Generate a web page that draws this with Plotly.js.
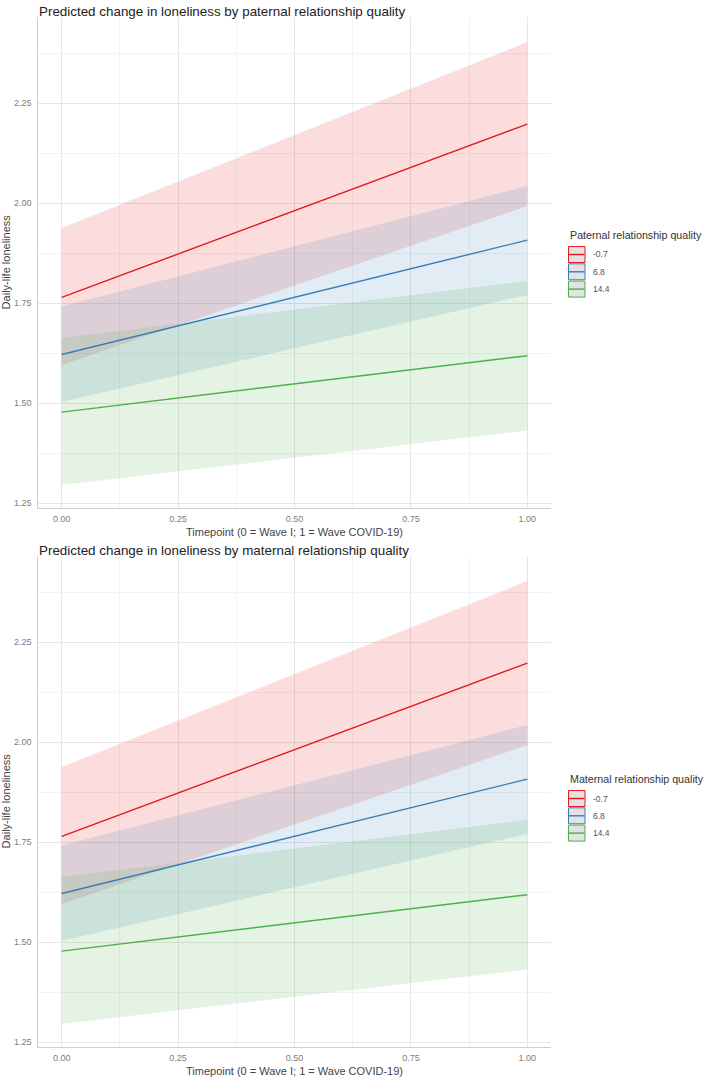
<!DOCTYPE html>
<html>
<head>
<meta charset="utf-8">
<script src="https://cdn.plot.ly/plotly-3.0.1.min.js"></script>
<style>
html,body{margin:0;padding:0;background:#fff;}
#chart{width:709px;height:1081px;}
</style>
</head>
<body>
<div id="chart"></div>
<script>
// ---- data ----
const timepoint = [0, 1];
const groupLabels = ["-0.7", "6.8", "14.4"];
const groupColors = ["#E41A1C", "#377EB8", "#4DAF4A"];
const groupFills = ["rgba(228,26,28,0.15)", "rgba(55,126,184,0.15)", "rgba(77,175,74,0.15)"];

// Paternal relationship quality panel
const patPred  = [[1.765, 2.198], [1.622, 1.908], [1.478, 1.619]];
const patLow   = [[1.596, 1.993], [1.504, 1.771], [1.296, 1.432]];
const patHigh  = [[1.938, 2.403], [1.742, 2.043], [1.663, 1.806]];

// Maternal relationship quality panel
const matPred  = [[1.765, 2.198], [1.622, 1.908], [1.478, 1.619]];
const matLow   = [[1.596, 1.993], [1.504, 1.771], [1.296, 1.432]];
const matHigh  = [[1.938, 2.403], [1.742, 2.043], [1.663, 1.806]];

const panelTitles = ["Predicted change in loneliness by paternal relationship quality",
                     "Predicted change in loneliness by maternal relationship quality"];
const legendTitles = ["Paternal relationship quality", "Maternal relationship quality"];
const xTitle = "Timepoint (0 = Wave I; 1 = Wave COVID-19)";
const yTitle = "Daily-life loneliness";
const xTicks = [0, 0.25, 0.5, 0.75, 1];
const yTicks = [1.25, 1.5, 1.75, 2.0, 2.25];

// ---- build ----
const W = 709, H = 1081;
const px = v => v / W;
const py = v => 1 - v / H;
const FONT = "Liberation Sans, Arial, Helvetica, sans-serif";

const panels = [
  {pred: patPred, low: patLow, high: patHigh, xa: "x", ya: "y"},
  {pred: matPred, low: matLow, high: matHigh, xa: "x2", ya: "y2"}
];

const traces = [];
panels.forEach((p) => {
  for (let g = 0; g < 3; g++) {
    const xs = timepoint.concat(timepoint.slice().reverse());
    const ys = p.low[g].concat(p.high[g].slice().reverse());
    traces.push({
      type: "scatter", mode: "lines", x: xs, y: ys, xaxis: p.xa, yaxis: p.ya,
      fill: "toself", fillcolor: groupFills[g], line: {width: 0, color: groupFills[g]},
      hoverinfo: "skip", showlegend: false
    });
  }
  for (let g = 0; g < 3; g++) {
    traces.push({
      type: "scatter", mode: "lines", x: timepoint, y: p.pred[g], xaxis: p.xa, yaxis: p.ya,
      line: {width: 1.4, color: groupColors[g]}, name: groupLabels[g], showlegend: false
    });
  }
});

function xAxis(domain, anchor) {
  return {
    domain: domain, anchor: anchor, range: [-0.05, 1.05],
    tickvals: xTicks, tickformat: ".2f", ticks: "", ticklabelstandoff: 2,
    tickfont: {family: FONT, size: 9, color: "#7d7d7d"},
    showgrid: true, gridcolor: "#e6e6e6", gridwidth: 1,
    minor: {dtick: 0.125, tick0: 0, showgrid: true, gridcolor: "#f3f3f3", gridwidth: 1},
    zeroline: false, showline: true, linecolor: "#cfcfcf", linewidth: 1,
    title: {text: xTitle, font: {family: FONT, size: 11, color: "#444"}, standoff: 5},
    fixedrange: true
  };
}
function yAxis(domain, anchor) {
  return {
    domain: domain, anchor: anchor, range: [1.239, 2.466],
    tickvals: yTicks, tickformat: ".2f", ticks: "", ticklabelstandoff: 4,
    tickfont: {family: FONT, size: 9, color: "#7d7d7d"},
    showgrid: true, gridcolor: "#e6e6e6", gridwidth: 1,
    minor: {dtick: 0.125, tick0: 1.25, showgrid: true, gridcolor: "#f3f3f3", gridwidth: 1},
    zeroline: false, showline: true, linecolor: "#cfcfcf", linewidth: 1,
    title: {text: yTitle, font: {family: FONT, size: 11, color: "#444"}, standoff: 3},
    fixedrange: true
  };
}

const xd = [px(38.4), px(550.6)];
const layout = {
  width: W, height: H, margin: {l: 0, r: 0, t: 0, b: 0},
  paper_bgcolor: "#fff", plot_bgcolor: "#fff", showlegend: false,
  xaxis: xAxis(xd, "y"), yaxis: yAxis([py(507.7), py(16.9)], "x"),
  xaxis2: xAxis(xd, "y2"), yaxis2: yAxis([py(1046.7), py(555.9)], "x2"),
  annotations: [], shapes: []
};

const titleY = [11.5, 550.5];
const legTitleY = [235, 779];
panels.forEach((p, i) => {
  layout.annotations.push({
    xref: "paper", yref: "paper", x: px(37), y: py(titleY[i]), xanchor: "left", yanchor: "middle",
    text: panelTitles[i], showarrow: false, font: {family: FONT, size: 13.4, color: "#222"}
  });
  layout.annotations.push({
    xref: "paper", yref: "paper", x: px(567.5), y: py(legTitleY[i]), xanchor: "left", yanchor: "middle",
    text: legendTitles[i], showarrow: false, font: {family: FONT, size: 10.7, color: "#333"}
  });
  for (let g = 0; g < 3; g++) {
    const cy = legTitleY[i] + 19.5 + g * 17.3;
    layout.shapes.push({
      type: "rect", xref: "paper", yref: "paper",
      x0: px(568.5), x1: px(585), y0: py(cy - 8), y1: py(cy + 8),
      fillcolor: "#e3e3e3", line: {color: groupColors[g], width: 1}
    });
    layout.shapes.push({
      type: "line", xref: "paper", yref: "paper",
      x0: px(569), x1: px(584.5), y0: py(cy), y1: py(cy),
      line: {color: groupColors[g], width: 1.4}
    });
    layout.annotations.push({
      xref: "paper", yref: "paper", x: px(591), y: py(cy), xanchor: "left", yanchor: "middle",
      text: groupLabels[g], showarrow: false, font: {family: FONT, size: 8.5, color: "#555"}
    });
  }
});

Plotly.newPlot("chart", traces, layout, {displayModeBar: false, staticPlot: true});
</script>
</body>
</html>
